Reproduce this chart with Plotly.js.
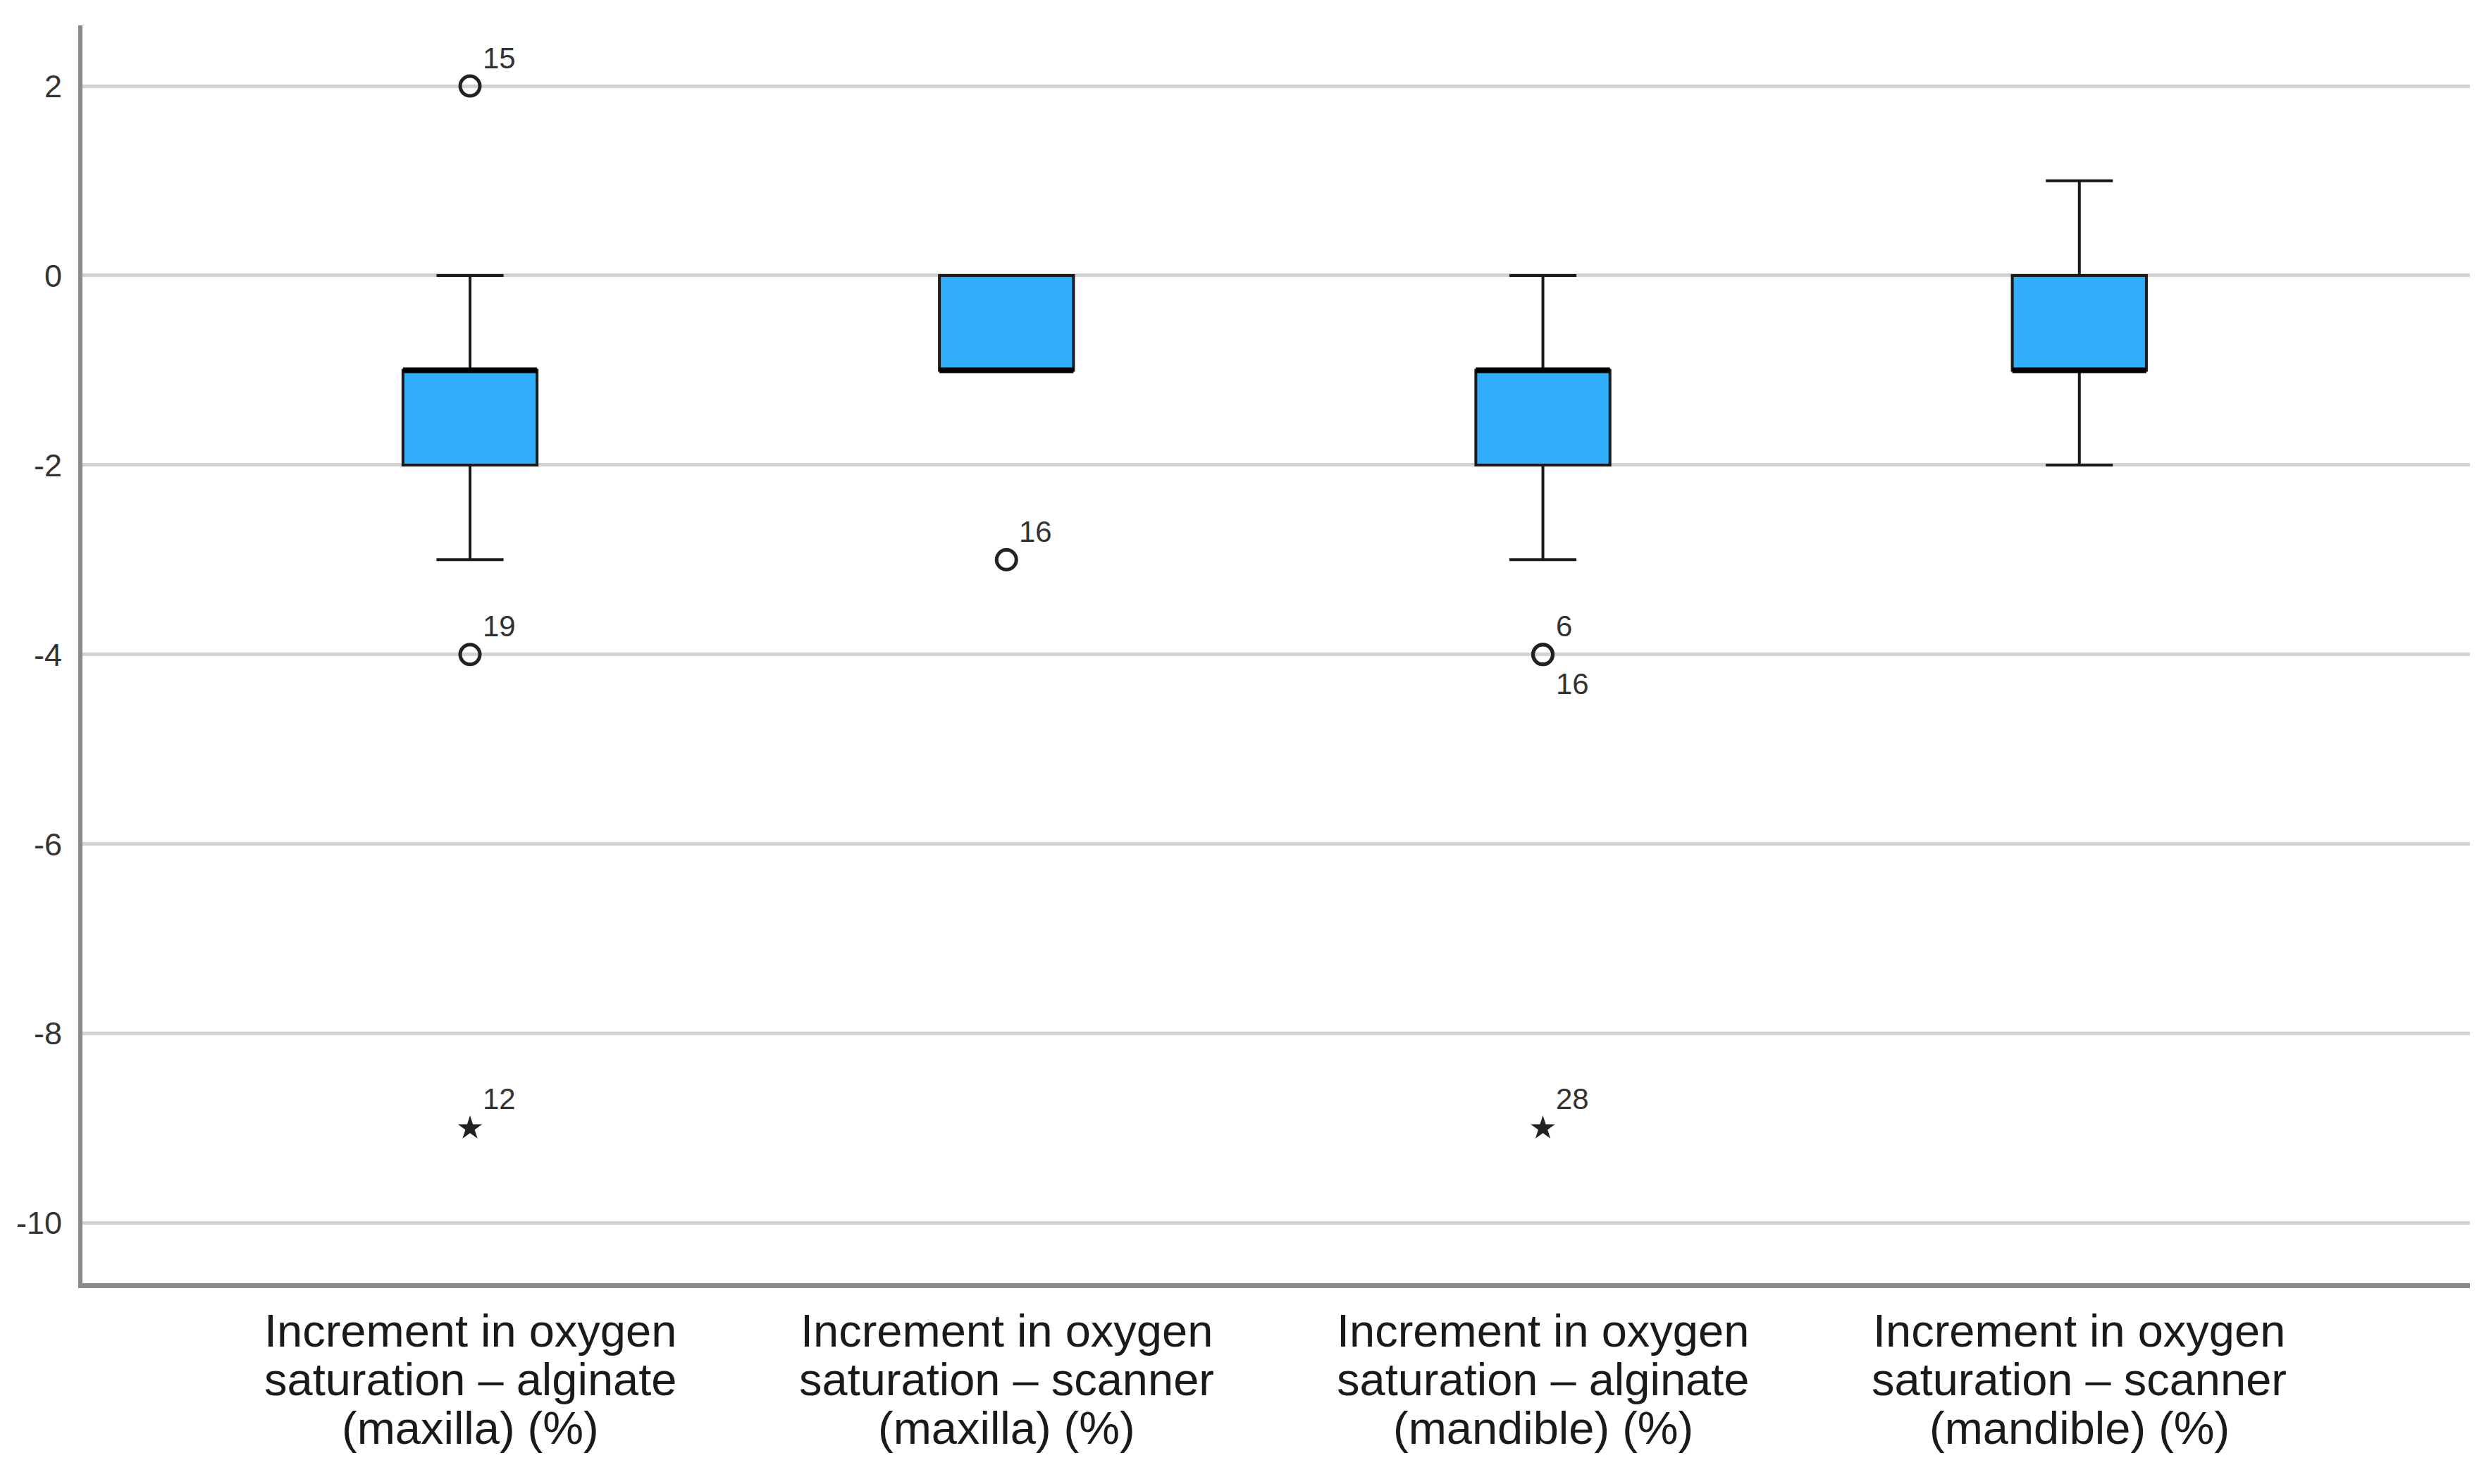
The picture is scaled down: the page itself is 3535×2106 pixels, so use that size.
<!DOCTYPE html>
<html>
<head>
<meta charset="utf-8">
<script src="https://cdn.plot.ly/plotly-3.0.1.min.js"></script>
<style>html,body{margin:0;padding:0;background:#fff;}#chart{width:3535px;height:2106px;}</style>
</head>
<body>
<div id="chart"></div>
<script>
// ---- data ----
const categoryLines = [
  ["Increment in oxygen", "saturation – alginate", "(maxilla) (%)"],
  ["Increment in oxygen", "saturation – scanner", "(maxilla) (%)"],
  ["Increment in oxygen", "saturation – alginate", "(mandible) (%)"],
  ["Increment in oxygen", "saturation – scanner", "(mandible) (%)"]
];
const positions = [0, 1, 2, 3];
const q1 = [-2, -1, -2, -1];
const median = [-1, -1, -1, -1];
const q3 = [-1, 0, -1, 0];
const lowerWhisker = [-3, -1, -3, -2];
const upperWhisker = [0, 0, 0, 1];

const outlierGroup = [0, 0, 1, 2, 2];
const outlierValue = [2, -4, -3, -4, -4];
const outlierCase = ["15", "19", "16", "6", "16"];
const outlierLabelSide = ["above", "above", "above", "above", "below"];

const extremeGroup = [0, 2];
const extremeValue = [-9, -9];
const extremeCase = ["12", "28"];

const yTicks = [-10, -8, -6, -4, -2, 0, 2];

// ---- styling ----
const boxWidth = 0.25;
const fill = "#30AEFC";
const edge = "#1a1a1a";
const textFont = "Liberation Sans, Arial, sans-serif";

const traces = [];
traces.push({
  type: "box",
  x: positions,
  q1: q1, median: median, q3: q3,
  lowerfence: lowerWhisker, upperfence: upperWhisker,
  width: boxWidth,
  whiskerwidth: 0.5,
  fillcolor: fill,
  line: {color: edge, width: 4},
  boxpoints: false,
  hoverinfo: "skip",
  showlegend: false
});
// thick median lines
positions.forEach((p, i) => {
  traces.push({
    type: "scatter", mode: "lines",
    x: [p - boxWidth / 2, p + boxWidth / 2],
    y: [median[i], median[i]],
    line: {color: "#000", width: 8},
    hoverinfo: "skip", showlegend: false
  });
});
traces.push({
  type: "scatter", mode: "markers",
  x: outlierGroup, y: outlierValue,
  marker: {symbol: "circle-open", size: 28, color: "#222", line: {width: 5, color: "#222"}},
  hoverinfo: "skip", showlegend: false
});
traces.push({
  type: "scatter", mode: "markers",
  x: extremeGroup, y: extremeValue,
  marker: {symbol: "star", size: 26, color: "#222", line: {width: 0}},
  hoverinfo: "skip", showlegend: false
});

const annotations = [];
outlierGroup.forEach((g, i) => {
  annotations.push({
    x: g, y: outlierValue[i], xref: "x", yref: "y",
    text: outlierCase[i], showarrow: false,
    xanchor: "left", yanchor: "middle",
    xshift: 16, yshift: outlierLabelSide[i] === "above" ? 40 : -42,
    font: {family: textFont, size: 42, color: "#333"}
  });
});
extremeGroup.forEach((g, i) => {
  annotations.push({
    x: g, y: extremeValue[i], xref: "x", yref: "y",
    text: extremeCase[i], showarrow: false,
    xanchor: "left", yanchor: "middle",
    xshift: 16, yshift: 42,
    font: {family: textFont, size: 42, color: "#333"}
  });
});
categoryLines.forEach((lines, i) => {
  lines.forEach((ln, k) => {
    annotations.push({
      x: positions[i], y: 0, xref: "x", yref: "paper",
      text: ln, showarrow: false,
      xanchor: "center", yanchor: "middle",
      yshift: -(67 + k * 69),
      font: {family: textFont, size: 65, color: "#1a1a1a"}
    });
  });
});

const layout = {
  width: 3535, height: 2106,
  margin: {l: 117, r: 30, t: 36, b: 285},
  paper_bgcolor: "#ffffff", plot_bgcolor: "#ffffff",
  showlegend: false,
  xaxis: {
    range: [-0.7225, 3.728],
    showgrid: false, zeroline: false,
    showline: true, linecolor: "#8a8a8a", linewidth: 7,
    showticklabels: false, ticks: ""
  },
  yaxis: {
    range: [-10.635, 2.64],
    tickvals: yTicks,
    ticktext: yTicks.map(String),
    showgrid: true, gridcolor: "#d2d2d2", gridwidth: 5,
    zeroline: false,
    showline: true, linecolor: "#8a8a8a", linewidth: 6,
    ticks: "", ticklabelstandoff: 14,
    tickfont: {family: textFont, size: 45, color: "#333"}
  },
  annotations: annotations
};

Plotly.newPlot("chart", traces, layout, {displayModeBar: false, staticPlot: true});
</script>
</body>
</html>
